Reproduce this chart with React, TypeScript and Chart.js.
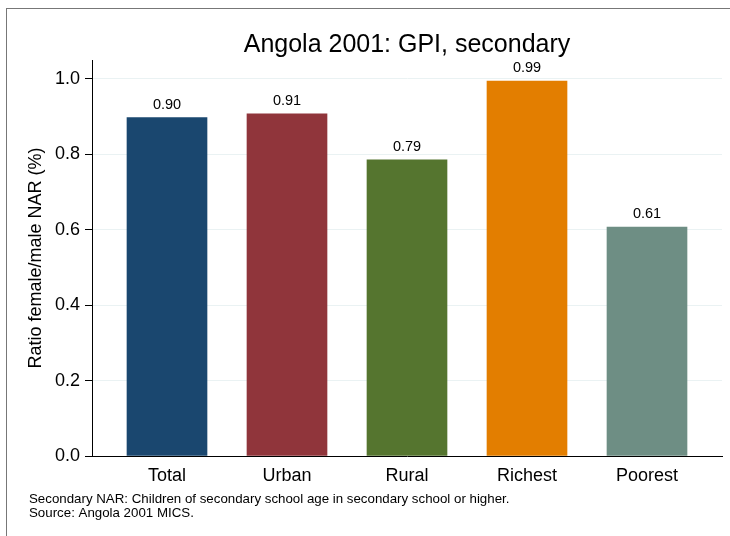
import React, { useEffect, useRef } from "react";
import { Chart, registerables } from "chart.js";

Chart.register(...registerables);

const categories = ["Total", "Urban", "Rural", "Richest", "Poorest"];
const values = [0.897, 0.907, 0.785, 0.994, 0.607];
const valueLabels = ["0.90", "0.91", "0.79", "0.99", "0.61"];
const barColors = ["#1a476f", "#90353b", "#55752f", "#e37e00", "#6e8e84"];
const yTicks = [0, 0.2, 0.4, 0.6, 0.8, 1.0];
const titleText = "Angola 2001: GPI, secondary";
const yTitle = "Ratio female/male NAR (%)";
const footnotes = [
  "Secondary NAR: Children of secondary school age in secondary school or higher.",
  "Source: Angola 2001 MICS.",
];

const FONT = "'Liberation Sans', Arial, Helvetica, sans-serif";

const W = 724;
const H = 528;

export default function App() {
  const ref = useRef<HTMLCanvasElement | null>(null);

  useEffect(() => {
    const canvas = ref.current;
    if (!canvas) return;

    const textPlugin = {
      id: "texts",
      afterDatasetsDraw(chart: any) {
        const ctx = chart.ctx;
        const meta = chart.getDatasetMeta(0);
        ctx.save();
        ctx.fillStyle = "#000";
        ctx.textAlign = "center";
        ctx.textBaseline = "alphabetic";
        ctx.font = `14.5px ${FONT}`;
        meta.data.forEach((bar: any, i: number) => {
          ctx.fillText(valueLabels[i], bar.x, bar.y - 9);
        });
        ctx.restore();
      },
      afterDraw(chart: any) {
        const ctx = chart.ctx;
        const area = chart.chartArea;
        ctx.save();
        ctx.fillStyle = "#000";
        ctx.textBaseline = "alphabetic";
        ctx.textAlign = "center";
        ctx.font = `25px ${FONT}`;
        ctx.fillText(titleText, (area.left + area.right) / 2, 43);
        ctx.textAlign = "left";
        ctx.font = `13.3px ${FONT}`;
        ctx.fillText(footnotes[0], 22, 494);
        ctx.fillText(footnotes[1], 22, 508);
        ctx.restore();
      },
    };

    const chart = new Chart(canvas, {
      type: "bar",
      data: {
        datasets: [
          {
            data: categories.map((_, i) => ({ x: i, y: values[i] })),
            backgroundColor: barColors,
            borderWidth: 0,
            barThickness: 80,
          },
        ],
      },
      options: {
        responsive: false,
        animation: false,
        devicePixelRatio: 1,
        layout: { padding: { left: 0, top: 51, right: 9, bottom: 41 } },
        plugins: {
          legend: { display: false },
          tooltip: { enabled: false },
          title: { display: false },
        },
        scales: {
          x: {
            type: "linear",
            min: -0.625,
            max: 4.625,
            offset: false,
            afterBuildTicks: (scale: any) => {
              scale.ticks = categories.map((_, i) => ({ value: i }));
            },
            afterFit: (scale: any) => {
              scale.height = 40;
            },
            ticks: {
              callback: (v: any) => categories[Math.round(Number(v))] ?? "",
              font: { family: FONT, size: 18 },
              color: "#000",
              padding: 1,
              maxRotation: 0,
              autoSkip: false,
            },
            grid: { display: false, offset: false },
            border: { display: true, color: "#000", width: 1 },
          },
          y: {
            type: "linear",
            min: 0,
            max: 1.05,
            afterBuildTicks: (scale: any) => {
              scale.ticks = yTicks.map((v) => ({ value: v }));
            },
            afterFit: (scale: any) => {
              scale.width = 85;
            },
            ticks: {
              callback: (v: any) => Number(v).toFixed(1),
              font: { family: FONT, size: 18 },
              color: "#000",
              padding: 5,
            },
            grid: {
              color: (c: any) => (c.tick && c.tick.value === 0 ? "rgba(0,0,0,0)" : "#eaf2f3"),
              tickColor: "#000",
              tickLength: 7,
              lineWidth: 1,
            },
            border: { display: true, color: "#000", width: 1 },
            title: {
              display: true,
              text: yTitle,
              font: { family: FONT, size: 18 },
              color: "#000",
              padding: { top: 18, bottom: 0 },
            },
          },
        },
      },
      plugins: [textPlugin],
    });

    return () => chart.destroy();
  }, []);

  return (
    <div
      style={{
        position: "fixed",
        left: 6,
        top: 8,
        borderTop: "1px solid #777",
        borderLeft: "1px solid #777",
        background: "#fff",
      }}
    >
      <canvas ref={ref} width={W} height={H} style={{ display: "block", width: W, height: H }} />
    </div>
  );
}
